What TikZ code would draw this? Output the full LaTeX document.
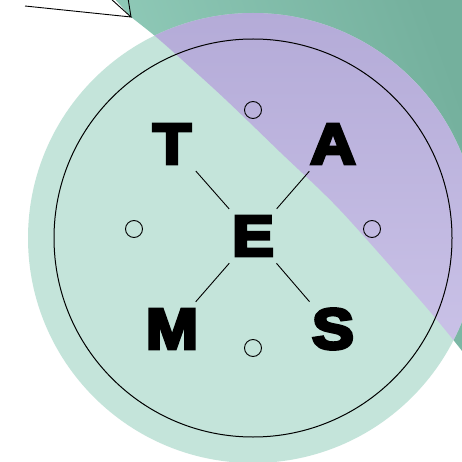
\documentclass[tikz,border=0pt]{standalone}
\usepackage{fontspec}
\newfontfamily\heavy{Liberation Sans}[BoldFeatures={FakeBold=6,FakeStretch=1.1}]
\definecolor{tealA}{HTML}{95CFBD}
\definecolor{tealB}{HTML}{74B09D}
\definecolor{mint}{HTML}{C4E4DA}
\definecolor{purA}{HTML}{B3AAD7}
\definecolor{purB}{HTML}{CBC3E8}
\begin{document}
\begin{tikzpicture}[x=1pt,y=-1pt,
  letter/.style={font=\heavy\bfseries\fontsize{57}{57}\selectfont, inner sep=0pt, text=black},
  dot/.style={circle, draw=black, line width=0.9pt, minimum size=17pt, inner sep=0pt},
  thinline/.style={line width=0.9pt, draw=black},
  link/.style={thinline, shorten <=36pt, shorten >=36pt}]
\useasboundingbox (0,0) rectangle (462,462);
\fill[white] (0,0) rectangle (462,462);
\begin{scope}
  \clip (0,0) rectangle (462,462);
  % teal band
  \shade[left color=tealA, right color=tealB, shading angle=110]
    (111,-5) -- (131,17) -- plot[smooth] coordinates {(131,17) (155,36) (180,58) (225,99) (280,152) (340,210) (420,300) (455,342) (478,372)} -- (480,-5) -- cycle;
  % mint circle
  \fill[mint] (253,238) circle[radius=225pt];
  % purple overlap
  \begin{scope}
    \clip (253,238) circle[radius=225pt];
    \shade[top color=purA, bottom color=purB]
      (111,-5) -- (131,17) -- plot[smooth] coordinates {(131,17) (155,36) (180,58) (225,99) (280,152) (340,210) (420,300) (455,342) (478,372)} -- (480,-5) -- cycle;
  \end{scope}
  % pointer lines
  \coordinate (tip) at (131,17);
  \coordinate (p1) at (25,6);
  \coordinate (p2) at (110,-2);
  \coordinate (p3) at (128,-2);
  \draw[thinline, line join=miter] (p1) -- (tip) -- (p2);
  \draw[thinline] (tip) -- (p3);
\end{scope}
% outer thin circle
\node[circle, draw=black, line width=1pt, minimum size=398pt, inner sep=0pt] (ring) at (253,238) {};
% small dots
\node[dot] (d1) at (253,110) {};
\node[dot] (d2) at (134,229) {};
\node[dot] (d3) at (372,229) {};
\node[dot] (d4) at (253,348) {};
% letters
\begin{scope}[line join=miter, miter limit=2]
\node[letter] (T) at (172,144) {T};
\node[letter] (A) at (333,144) {A};
\node[letter] (E) at (253,236) {E};
\node[letter] (M) at (172,329) {M};
\node[letter] (S) at (333,329) {S};
\end{scope}
% links
\draw[link] (T.center) -- (E.center);
\draw[link] (A.center) -- (E.center);
\draw[link] (M.center) -- (E.center);
\draw[link] (S.center) -- (E.center);
\end{tikzpicture}
\end{document}
